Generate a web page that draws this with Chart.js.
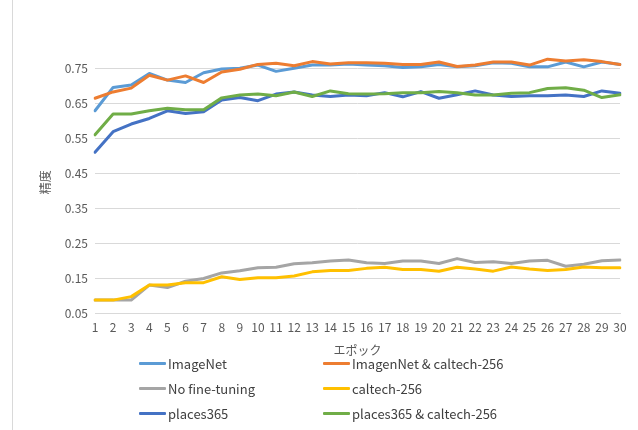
<!DOCTYPE html>
<html>
<head>
<meta charset="utf-8">
<script src="https://cdn.jsdelivr.net/npm/chart.js@4.4.1/dist/chart.umd.min.js"></script>
<style>
    html, body { margin: 0; padding: 0; background: #fff; }
    #wrap { position: relative; width: 638px; height: 430px; overflow: hidden; }
    #edge { position: absolute; left: 12px; top: 0; width: 1px; height: 430px; background: #d9d9d9; }
    #legend { position: absolute; left: 0; top: 0; width: 638px; height: 430px; pointer-events: none; }
    .item { position: absolute; display: flex; align-items: center; height: 20px;
            font-family: "Noto Sans CJK JP", "Noto Sans", sans-serif; font-size: 13px; color: #404040; }
    .swatch { width: 27px; height: 3px; margin-right: 2px; border-radius: 1px; }
</style>
</head>
<body>
<div id="wrap">
    <canvas id="chart" width="638" height="430"></canvas>
    <div id="edge"></div>
    <div id="legend"></div>
</div>
<script>
// Epochs and tick labels
const epochs = Array.from({ length: 30 }, (_, i) => String(i + 1));
const yTicks = [0.05, 0.15, 0.25, 0.35, 0.45, 0.55, 0.65, 0.75];

// Series values
const imageNet = [0.630, 0.697, 0.704, 0.737, 0.718, 0.711, 0.739, 0.750, 0.752, 0.761,
                  0.743, 0.752, 0.761, 0.761, 0.764, 0.761, 0.759, 0.754, 0.756, 0.763,
                  0.756, 0.759, 0.768, 0.766, 0.756, 0.756, 0.770, 0.756, 0.770, 0.763];
const imageNetCaltech = [0.666, 0.684, 0.695, 0.732, 0.718, 0.730, 0.711, 0.741, 0.749, 0.763,
                         0.766, 0.759, 0.771, 0.764, 0.768, 0.768, 0.766, 0.763, 0.763, 0.770,
                         0.757, 0.761, 0.770, 0.770, 0.761, 0.778, 0.773, 0.776, 0.771, 0.763];
const noFineTuning = [0.087, 0.087, 0.087, 0.130, 0.123, 0.141, 0.149, 0.165, 0.171, 0.180,
                      0.181, 0.191, 0.194, 0.199, 0.202, 0.194, 0.192, 0.199, 0.199, 0.192,
                      0.206, 0.195, 0.197, 0.192, 0.199, 0.201, 0.184, 0.190, 0.200, 0.202];
const caltech = [0.087, 0.087, 0.097, 0.130, 0.130, 0.137, 0.137, 0.154, 0.146, 0.151,
                 0.151, 0.156, 0.168, 0.172, 0.172, 0.178, 0.181, 0.175, 0.175, 0.170,
                 0.181, 0.176, 0.170, 0.182, 0.176, 0.172, 0.175, 0.182, 0.180, 0.180];
const places365 = [0.511, 0.570, 0.592, 0.608, 0.630, 0.622, 0.627, 0.661, 0.668, 0.659,
                   0.678, 0.684, 0.675, 0.671, 0.675, 0.673, 0.682, 0.670, 0.685, 0.666,
                   0.676, 0.687, 0.675, 0.671, 0.673, 0.673, 0.675, 0.671, 0.687, 0.680];
const places365Caltech = [0.561, 0.621, 0.621, 0.630, 0.637, 0.633, 0.633, 0.667, 0.675, 0.678,
                          0.673, 0.684, 0.671, 0.687, 0.679, 0.678, 0.679, 0.682, 0.682, 0.685,
                          0.682, 0.675, 0.675, 0.680, 0.682, 0.694, 0.696, 0.689, 0.668, 0.676];

const seriesNames = ['ImageNet', 'ImagenNet & caltech-256', 'No fine-tuning',
                     'caltech-256', 'places365', 'places365 & caltech-256'];
const seriesData = [imageNet, imageNetCaltech, noFineTuning, caltech, places365, places365Caltech];
const seriesColors = ['#5B9BD5', '#ED7D31', '#A5A5A5', '#FFC000', '#4472C4', '#70AD47'];

const font = '"Noto Sans CJK JP", "Noto Sans", sans-serif';

const datasets = seriesNames.map((name, i) => ({
    label: name,
    data: seriesData[i],
    borderColor: seriesColors[i],
    backgroundColor: seriesColors[i],
    borderWidth: 3,
    pointRadius: 0,
    tension: 0,
    borderJoinStyle: 'round',
    borderCapStyle: 'round',
    order: seriesNames.length - i // later series drawn on top, like Excel
}));

new Chart(document.getElementById('chart'), {
    type: 'line',
    data: { labels: epochs, datasets: datasets },
    options: {
        responsive: false,
        animation: false,
        layout: { padding: { left: 0, right: 18, top: 51.5, bottom: 0 } },
        plugins: { legend: { display: false }, tooltip: { enabled: false } },
        scales: {
            x: {
                grid: { display: false, drawTicks: false },
                border: { display: true, color: '#d9d9d9', width: 1 },
                ticks: { color: '#595959', font: { family: font, size: 12 }, padding: 7,
                         maxRotation: 0, autoSkip: false },
                title: { display: true, text: 'エポック', color: '#595959',
                         font: { family: font, size: 12 }, padding: { top: 0, bottom: 72 } },
                afterFit: scale => { scale.height = 117; }
            },
            y: {
                min: 0.05,
                max: 0.8,
                afterBuildTicks: scale => { scale.ticks = yTicks.map(v => ({ value: v })); },
                grid: { color: '#d9d9d9', lineWidth: 1, drawTicks: false },
                border: { display: false },
                ticks: { color: '#595959', font: { family: font, size: 12 }, padding: 7,
                         callback: v => v.toFixed(2) },
                title: { display: true, text: '精度', color: '#595959',
                         font: { family: font, size: 12 }, padding: { top: 38, bottom: 0 } },
                afterFit: scale => { scale.width = 95; }
            }
        }
    }
});

// Two-column legend under the chart
const legend = document.getElementById('legend');
const colX = [139, 323];
const rowY = [353, 378, 403];
seriesNames.forEach((name, i) => {
    const item = document.createElement('div');
    item.className = 'item';
    item.style.left = colX[i % 2] + 'px';
    item.style.top = rowY[Math.floor(i / 2)] + 'px';
    item.innerHTML = `<span class="swatch" style="background:${seriesColors[i]}"></span><span>${name}</span>`;
    legend.appendChild(item);
});
</script>
</body>
</html>
